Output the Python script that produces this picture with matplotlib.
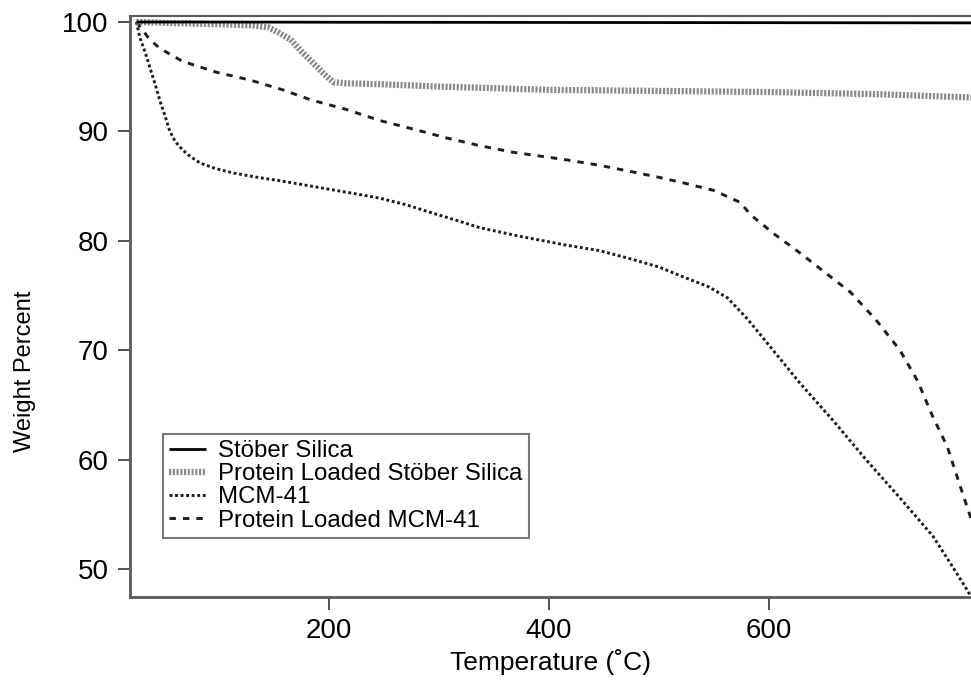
import matplotlib
matplotlib.use("Agg")
import matplotlib.pyplot as plt

plt.rcParams['font.family'] = ['Liberation Sans', 'DejaVu Sans']

# ---- data ----
stober_T = [25, 100, 200, 300, 400, 500, 600, 700, 784]
stober_W = [100.0, 100.0, 99.98, 99.97, 99.96, 99.95, 99.94, 99.93, 99.92]

protein_stober_T = [25, 60, 100, 130, 145, 155, 165, 175, 187, 196, 204, 215, 250, 300, 400, 500, 600, 700, 784]
protein_stober_W = [100.0, 99.9, 99.8, 99.7, 99.5, 99.0, 98.4, 97.3, 96.1, 95.2, 94.5, 94.4, 94.3, 94.1, 93.8, 93.7, 93.6, 93.4, 93.1]

mcm_T = [25, 28, 33, 37, 42, 46, 51, 55, 60, 67, 74, 83, 97, 113, 135, 155, 178, 201, 224, 246, 270, 292, 315, 337, 374, 416, 446, 476, 500, 522, 545, 562, 580, 598, 628, 658, 689, 719, 749, 765, 780, 784]
mcm_W = [100, 98.6, 97.2, 95.9, 94.3, 92.9, 91.4, 90.1, 89.1, 88.3, 87.7, 87.1, 86.6, 86.2, 85.8, 85.5, 85.1, 84.7, 84.3, 83.9, 83.3, 82.6, 81.9, 81.2, 80.4, 79.6, 79.1, 78.3, 77.6, 76.7, 75.8, 74.8, 72.9, 70.7, 67.0, 63.6, 59.9, 56.5, 53.0, 50.5, 48.1, 47.4]

protein_mcm_T = [25, 31, 37, 45, 53, 67, 98, 128, 158, 183, 216, 246, 277, 307, 337, 367, 416, 446, 476, 500, 522, 550, 574, 583, 605, 628, 651, 674, 697, 719, 735, 749, 762, 774, 784]
protein_mcm_W = [100, 99.2, 98.4, 97.7, 97.2, 96.4, 95.4, 94.7, 93.8, 92.9, 92.0, 91.0, 90.2, 89.4, 88.7, 88.1, 87.4, 86.9, 86.3, 85.8, 85.3, 84.6, 83.5, 82.4, 80.6, 78.9, 77.1, 75.3, 72.8, 70.0, 67.2, 63.9, 61.2, 57.5, 54.5]

labels = ["Stöber Silica", "Protein Loaded Stöber Silica", "MCM-41", "Protein Loaded MCM-41"]
xticks = [200, 400, 600]
yticks = [50, 60, 70, 80, 90, 100]

fig = plt.figure(figsize=(9.71, 6.82), dpi=100)
ax = fig.add_axes([130/971, 1-597/682, 1-130/971, (597-16)/682])

ax.plot(stober_T, stober_W, color='black', lw=2.0, solid_capstyle='butt', label=labels[0], zorder=5)
ax.plot(protein_stober_T, protein_stober_W, color='#8a8a8a', lw=4.5,
        linestyle=(0, (0.35, 0.25)), dash_capstyle='butt', label=labels[1], zorder=4)
ax.plot(mcm_T, mcm_W, color='#1e1e1e', lw=2.1, linestyle=(0, (1.0, 0.9)),
        dash_capstyle='butt', label=labels[2], zorder=3)
ax.plot(protein_mcm_T, protein_mcm_W, color='#1e1e1e', lw=2.1, linestyle=(0, (2.2, 2.4)),
        dash_capstyle='butt', label=labels[3], zorder=3)

ax.set_xlim(19.1, 783.6)
ax.set_ylim(47.44, 100.55)
ax.set_xticks(xticks)
ax.set_yticks(yticks)

for s in ['left', 'bottom', 'top']:
    ax.spines[s].set_color('#5a5a5a')
    ax.spines[s].set_linewidth(2.0)
ax.spines['top'].set_linewidth(1.5)
ax.spines['right'].set_visible(False)

ax.tick_params(axis='y', direction='out', length=9, width=1.2, pad=6.5, labelsize=20, color='#333333')
ax.tick_params(axis='x', direction='out', length=9, width=1.2, pad=6, labelsize=20, color='#333333')

fig.text(551/971, 1-662/682, "Temperature (˚C)", fontsize=19, ha='center', va='center')
fig.text(25/971, 1-371/682, "Weight Percent", rotation=90, fontsize=17,
         ha='center', va='center')

leg = ax.legend(loc='upper left', bbox_to_anchor=((163-130)/841, (597-434)/581),
                fontsize=17.3, frameon=True, fancybox=False, handlelength=1.55,
                handletextpad=0.5, labelspacing=0.05, borderpad=0.25,
                borderaxespad=0.0)
leg.get_frame().set_edgecolor('#555555')
leg.get_frame().set_linewidth(1.5)

fig.savefig("out.png", dpi=100)
